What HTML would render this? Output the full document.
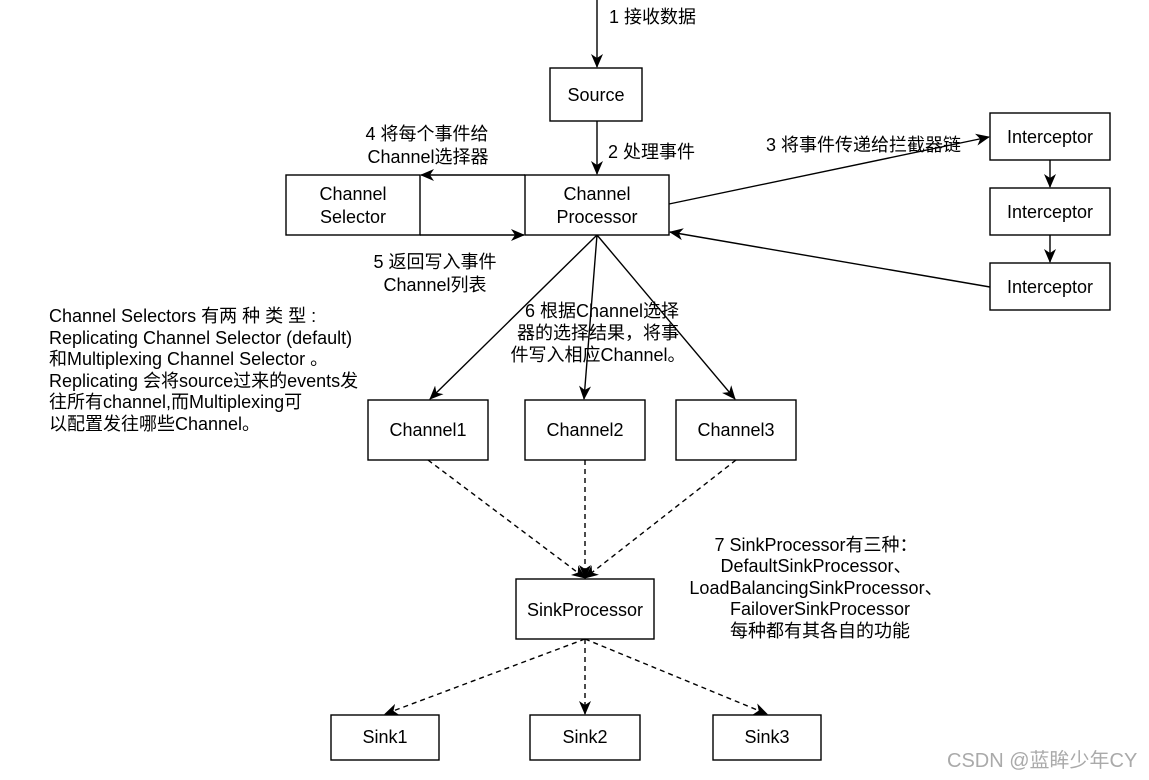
<!DOCTYPE html>
<html><head><meta charset="utf-8"><style>
body{margin:0;background:#fff;}
svg{display:block;font-family:"Liberation Sans","Noto Sans CJK SC",sans-serif;font-size:18px;}
</style></head><body>
<svg width="1149" height="780" viewBox="0 0 1149 780">
<defs>
<marker id="a" markerWidth="16" markerHeight="16" refX="13" refY="7" orient="auto" markerUnits="userSpaceOnUse">
<path d="M0,1 L14,7 L0,13 L4,7 Z" fill="#000"/></marker>
</defs>
<g fill="#fff" stroke="#000" stroke-width="1.4">
<rect x="550" y="68" width="92" height="53"/>
<rect x="286" y="175" width="134" height="60"/>
<rect x="525" y="175" width="144" height="60"/>
<rect x="990" y="113" width="120" height="47"/>
<rect x="990" y="188" width="120" height="47"/>
<rect x="990" y="263" width="120" height="47"/>
<rect x="368" y="400" width="120" height="60"/>
<rect x="525" y="400" width="120" height="60"/>
<rect x="676" y="400" width="120" height="60"/>
<rect x="516" y="579" width="138" height="60"/>
<rect x="331" y="715" width="108" height="45"/>
<rect x="530" y="715" width="110" height="45"/>
<rect x="713" y="715" width="108" height="45"/>
</g>
<g stroke="#000" stroke-width="1.4" fill="none" marker-end="url(#a)">
<line x1="597" y1="0" x2="597" y2="67"/>
<line x1="597" y1="121" x2="597" y2="174"/>
<line x1="525" y1="175" x2="421" y2="175"/>
<line x1="420" y1="235" x2="524" y2="235"/>
<line x1="669" y1="204" x2="989" y2="137"/>
<line x1="1050" y1="160" x2="1050" y2="187"/>
<line x1="1050" y1="235" x2="1050" y2="262"/>
<line x1="990" y1="287" x2="670" y2="232"/>
<line x1="597" y1="235" x2="430" y2="399"/>
<line x1="597" y1="235" x2="584" y2="399"/>
<line x1="597" y1="235" x2="735" y2="399"/>
</g>
<g stroke="#000" stroke-width="1.4" fill="none" stroke-dasharray="5,4" marker-end="url(#a)">
<line x1="428" y1="460" x2="585" y2="578"/>
<line x1="585" y1="460" x2="585" y2="578"/>
<line x1="736" y1="460" x2="585" y2="578"/>
<line x1="585" y1="639" x2="385" y2="714"/>
<line x1="585" y1="639" x2="585" y2="714"/>
<line x1="585" y1="639" x2="767" y2="714"/>
</g>
<g fill="#000" text-anchor="middle">
<text x="596" y="101">Source</text>
<text x="353" y="200">Channel</text><text x="353" y="223">Selector</text>
<text x="597" y="200">Channel</text><text x="597" y="223">Processor</text>
<text x="1050" y="143">Interceptor</text>
<text x="1050" y="218">Interceptor</text>
<text x="1050" y="293">Interceptor</text>
<text x="428" y="436">Channel1</text>
<text x="585" y="436">Channel2</text>
<text x="736" y="436">Channel3</text>
<text x="585" y="616">SinkProcessor</text>
<text x="385" y="743">Sink1</text>
<text x="585" y="743">Sink2</text>
<text x="767" y="743">Sink3</text>
<text x="427" y="140">4 将每个事件给</text>
<text x="428" y="163">Channel选择器</text>
<text x="435" y="268">5 返回写入事件</text>
<text x="435" y="291">Channel列表</text>
<text x="602" y="317">6 根据Channel选择</text>
<text x="598" y="339">器的选择结果，将事</text>
<text x="598" y="361">件写入相应Channel。</text>
<text x="816" y="551">7 SinkProcessor有三种：</text>
<text x="816" y="572">DefaultSinkProcessor、</text>
<text x="816" y="594">LoadBalancingSinkProcessor、</text>
<text x="820" y="615">FailoverSinkProcessor</text>
<text x="820" y="637">每种都有其各自的功能</text>
</g>
<g fill="#000">
<text x="609" y="23">1 接收数据</text>
<text x="608" y="158">2 处理事件</text>
<text x="766" y="151">3 将事件传递给拦截器链</text>
<text x="49" y="322">Channel Selectors 有两 种 类 型 :</text>
<text x="49" y="344">Replicating Channel Selector (default)</text>
<text x="49" y="365">和Multiplexing Channel Selector 。</text>
<text x="49" y="387">Replicating 会将source过来的events发</text>
<text x="49" y="408">往所有channel,而Multiplexing可</text>
<text x="49" y="430">以配置发往哪些Channel。</text>
<text x="947" y="767" fill="#aaa" font-size="20">CSDN @蓝眸少年CY</text>
</g>
</svg>
</body></html>
